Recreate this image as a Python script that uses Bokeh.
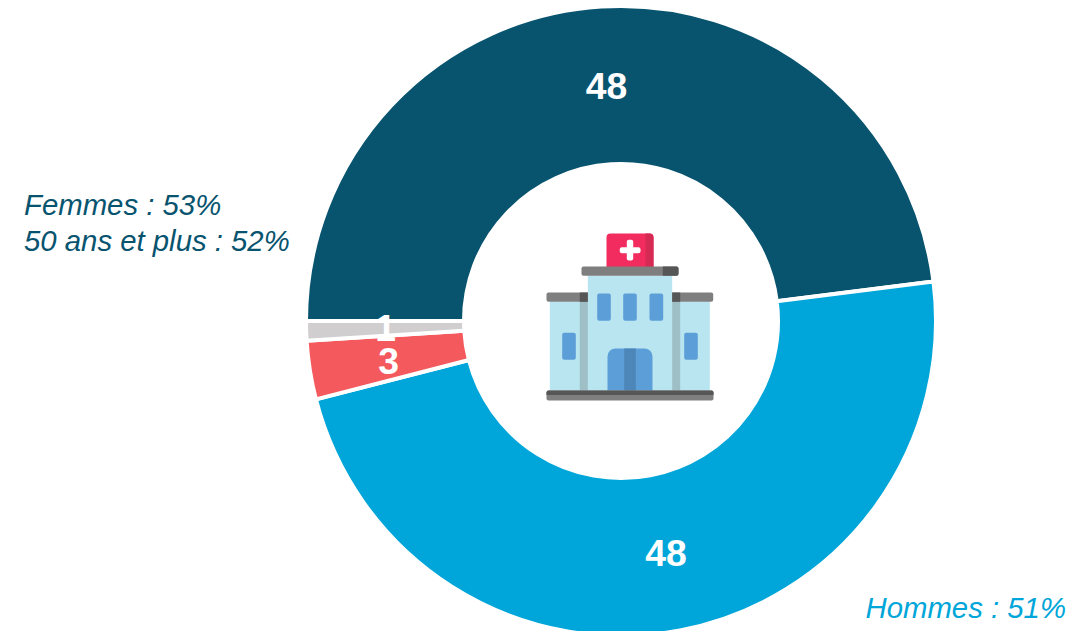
from math import pi
import numpy as np
from bokeh.plotting import figure
from bokeh.models import Range1d, ColumnDataSource
from bokeh.core.properties import value
from bokeh.embed import file_html
from bokeh.resources import INLINE

# ---- data ----
categories = ["Femmes", "Hommes", "Autre", "Non renseigné"]
values = [48, 48, 3, 1]
slice_labels = ["48", "48", "3", "1"]
colors = ["#08546F", "#00A6D9", "#F4595E", "#D0CECE"]
note_dark = ["Femmes : 53%", "50 ans et plus : 52%"]
note_blue = ["Hommes : 51%"]

# ---- layout (one data unit = one picture pixel, centred on the ring) ----
W, H = 1092, 631
CX, CY = 620.5, 320.5
R_OUT, R_IN = 315.0, 157.0
def X(px): return px - CX
def Y(py): return CY - py

p = figure(width=W, height=H, output_backend="svg", toolbar_location=None,
           x_range=Range1d(X(0), X(W)), y_range=Range1d(Y(H), Y(0)),
           min_border=0, outline_line_color=None, background_fill_color="white")
p.axis.visible = False
p.grid.visible = False

# ---- ring: clockwise from 9 o'clock ----
v = np.array(values, dtype=float)
cum = np.concatenate([[0], np.cumsum(v)]) / v.sum()
starts = pi - cum[:-1] * 2 * pi
ends = pi - cum[1:] * 2 * pi
src = ColumnDataSource(dict(cat=categories, start=starts, end=ends, color=colors))
p.annular_wedge(x=0, y=0, inner_radius=R_IN, outer_radius=R_OUT,
                start_angle="start", end_angle="end", direction="clock",
                fill_color="color", line_color="white", line_width=4, source=src)

# ---- hospital icon (decoration, picture pixel boxes) ----
def box(l, r, t, b, color, radius=0):
    p.quad(left=X(l), right=X(r), top=Y(t), bottom=Y(b), fill_color=color,
           line_color=None, border_radius=radius)

LIGHT, SHADE = "#B8E5F0", "#9FBFC6"
GREY, DGREY = "#7F7F7F", "#565656"
BLUE, DBLUE = "#5C9ED8", "#4D86B8"
RED, DRED = "#F22C5E", "#D42A53"

box(606, 653, 233, 267, RED, (4, 4, 0, 0))
box(645, 653, 233, 267, DRED, (0, 4, 0, 0))
box(619.3, 640, 246.7, 252.7, "white", 2)
box(626.3, 632.7, 239.3, 260, "white", 2)

box(549.3, 709.3, 301, 390, LIGHT)
box(587.3, 671.7, 275, 390, LIGHT)
box(579.3, 587.3, 301, 390, SHADE)
box(671.7, 679.7, 301, 390, SHADE)

box(581, 678, 266, 275.3, GREY, 2)
box(662.3, 678, 266, 275.3, DGREY, (0, 2, 2, 0))
box(546, 587.3, 292, 301.3, GREY, (2, 0, 0, 2))
box(579.3, 587.3, 292, 301.3, DGREY)
box(671.7, 712.7, 292, 301.3, GREY, (0, 2, 2, 0))
box(671.7, 679.7, 292, 301.3, DGREY)

for l, r in [(596.7, 610.3), (622.7, 636.3), (649, 662.7)]:
    box(l, r, 293, 320.3, BLUE, 2)
for l, r in [(561.7, 575.3), (683.7, 697.3)]:
    box(l, r, 332.3, 359.3, BLUE, 2)

box(607, 652, 348, 390, BLUE, (8, 8, 0, 0))
box(623.7, 635.3, 348, 390, DBLUE)
box(546, 713, 390, 400, GREY, 2)
box(546, 713, 390, 394.5, DGREY, (2, 2, 0, 0))

# ---- texts ----
ARIAL = value("Liberation Sans")
lx = [X(606), X(665.5), X(388), X(385)]
ly = [Y(85), Y(552), Y(360), Y(327)]
p.text(x=lx, y=ly, text=slice_labels, text_color="white", text_font=ARIAL,
       text_font_style="bold", text_font_size="37.3px",
       text_align="center", text_baseline="middle")

p.text(x=[X(23.5)], y=[Y(204)], text=[note_dark[0]], text_color=colors[0], text_font=ARIAL,
       text_font_style="italic", text_font_size="29.33px", text_baseline="middle")
p.text(x=[X(23.5)], y=[Y(240)], text=[note_dark[1]], text_color=colors[0], text_font=ARIAL,
       text_font_style="italic", text_font_size="29.33px", text_baseline="middle")
p.text(x=[X(865)], y=[Y(607)], text=note_blue, text_color=colors[1], text_font=ARIAL,
       text_font_style="italic", text_font_size="29.33px", text_baseline="middle")

open("out.html", "w").write(file_html(p, INLINE))
